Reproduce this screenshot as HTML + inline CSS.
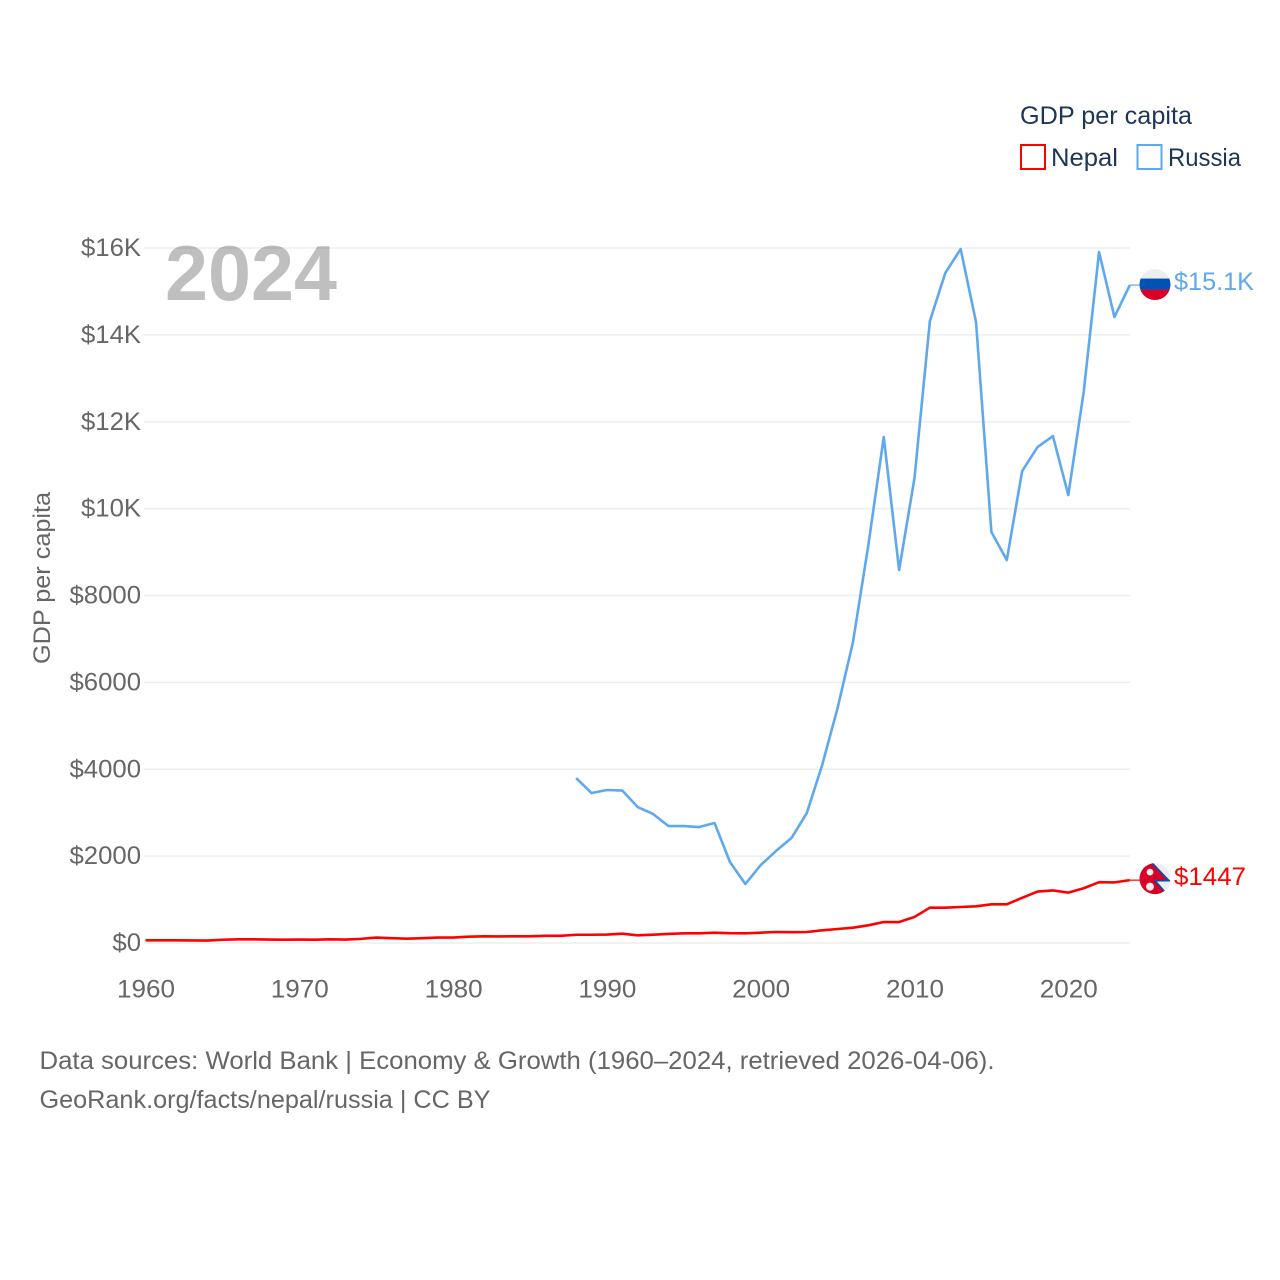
<!DOCTYPE html>
<html lang="en">
<head>
<meta charset="utf-8">
<title>GDP per capita: Nepal and Russia</title>
<style>
html,body{margin:0;padding:0;background:#fff;}
svg{display:block;}
text{font-family:"Liberation Sans",sans-serif;}
</style>
</head>
<body>
<svg id="chart" xmlns="http://www.w3.org/2000/svg" width="1280" height="1280" viewBox="0 0 1280 1280">
  <defs>
    <clipPath id="clip-russia"><circle cx="0" cy="0" r="15.5"/></clipPath>
    <clipPath id="clip-nepal"><circle cx="0" cy="0" r="15.5"/></clipPath>
  </defs>
  <rect width="1280" height="1280" fill="#fff"/>
  <g id="grid"></g>
  <g id="ylabels"></g>
  <g id="xlabels"></g>
  <text x="0" y="0" transform="translate(50,578) rotate(-90)" text-anchor="middle" font-size="24" fill="#666" textLength="172" lengthAdjust="spacingAndGlyphs">GDP per capita</text>
  <text x="165" y="300" font-size="78" font-weight="700" fill="#000" fill-opacity="0.25" textLength="172" lengthAdjust="spacingAndGlyphs">2024</text>
  <g id="series"></g>
  <g id="flag-russia">
    <g clip-path="url(#clip-russia)">
      <rect x="-16" y="-16" width="32" height="32" fill="#eeeeee"/>
      <rect x="-16" y="-6" width="32" height="11" fill="#0052b4"/>
      <rect x="-16" y="5" width="32" height="11" fill="#d80027"/>
    </g>
  </g>
  <g id="flag-nepal">
    <g clip-path="url(#clip-nepal)">
      <rect x="-16" y="-16" width="32" height="32" fill="#eeeeee"/>
      <polygon points="-16,-17 -3,-17 15,2 0,2 12,16 -3,17 -16,17" fill="#d80027"/>
      <polyline points="-3,-15 14,2 0,2 12,15.500" fill="none" stroke="#0052b4" stroke-width="1.6"/>
      <circle cx="-5" cy="-6.500" r="3.400" fill="#eeeeee"/>
      <circle cx="-5" cy="8" r="4" fill="#eeeeee"/>
    </g>
  </g>
  <g id="end-labels"></g>
  <g>
    <text x="1020" y="124" font-size="25" fill="#1d3557" textLength="172" lengthAdjust="spacingAndGlyphs">GDP per capita</text>
    <g>
      <rect x="1021" y="145" width="24" height="24" fill="#fff" stroke="#ff0000" stroke-width="2"/>
      <text x="1051" y="166" font-size="25" fill="#1d3557" textLength="67" lengthAdjust="spacingAndGlyphs">Nepal</text>
    </g>
    <g>
      <rect x="1137.500" y="145" width="24" height="24" fill="#fff" stroke="#5fa8ee" stroke-width="2"/>
      <text x="1168" y="166" font-size="25" fill="#1d3557" textLength="73" lengthAdjust="spacingAndGlyphs">Russia</text>
    </g>
  </g>
  <text x="39.500" y="1069" font-size="25" fill="#666" textLength="955" lengthAdjust="spacingAndGlyphs">Data sources: World Bank | Economy &amp; Growth (1960–2024, retrieved 2026-04-06).</text>
  <text x="39.500" y="1108" font-size="25" fill="#666" textLength="451" lengthAdjust="spacingAndGlyphs">GeoRank.org/facts/nepal/russia | CC BY</text>
</svg>
<script>
const xTickYears = [1960, 1970, 1980, 1990, 2000, 2010, 2020];
const yTickValues = [0, 2000, 4000, 6000, 8000, 10000, 12000, 14000, 16000];
const yTickLabels = ["$0", "$2000", "$4000", "$6000", "$8000", "$10K", "$12K", "$14K", "$16K"];

const nepalStartYear = 1960;
const nepalValues = [62, 62, 62, 58, 56, 75, 85, 85, 78, 76, 78, 76, 85, 80, 95, 125, 110, 100, 110, 125, 125, 145, 155, 150, 155, 155, 165, 165, 190, 190, 195, 215, 177, 192, 208, 223, 223, 238, 225, 223, 238, 253, 250, 253, 292, 322, 353, 407, 483, 483, 600, 813, 813, 829, 844, 890, 890, 1040, 1185, 1210, 1160, 1260, 1400, 1395, 1447];
const russiaStartYear = 1988;
const russiaValues = [3798, 3453, 3522, 3510, 3130, 2970, 2693, 2693, 2670, 2762, 1865, 1358, 1795, 2120, 2417, 2992, 4100, 5410, 6929, 9162, 11648, 8587, 10704, 14318, 15423, 15976, 14295, 9461, 8817, 10865, 11418, 11671, 10313, 12684, 15907, 14410, 15147];
const nepalEndLabel = "$1447";
const russiaEndLabel = "$15.1K";

const NS = "http://www.w3.org/2000/svg";
function xScale(year) { return 145.5 + (year - 1960) * 15.38; }
function yScale(value) { return 943 - value * (695 / 16000); }
function make(tag, attrs, text) {
  const el = document.createElementNS(NS, tag);
  for (const k in attrs) el.setAttribute(k, attrs[k]);
  if (text !== undefined) el.textContent = text;
  return el;
}
function approxWidth(label) {
  // Narrow the fallback font to the humanist proportions of the reference.
  return label.length * 14.3 + (label.indexOf("K") >= 0 ? 2.8 : 0);
}

const gridGroup = document.getElementById("grid");
const yGroup = document.getElementById("ylabels");
yTickValues.forEach(function (v, i) {
  const line = make("line", { x1: 144, x2: 1130, y1: yScale(v), y2: yScale(v), stroke: "#eeeeee", "stroke-width": 1.6 });
  
  
  gridGroup.appendChild(line);
  const label = make("text", { x: 141, y: yScale(v) + 8, "text-anchor": "end", "font-size": 25, fill: "#666", textLength: approxWidth(yTickLabels[i]), lengthAdjust: "spacingAndGlyphs" }, yTickLabels[i]);
  
  
  yGroup.appendChild(label);
});

const xGroup = document.getElementById("xlabels");
xTickYears.forEach(function (year) {
  const label = make("text", { x: xScale(year) + 0.5, y: 997.5, "text-anchor": "middle", "font-size": 25, fill: "#666", textLength: 58, lengthAdjust: "spacingAndGlyphs" }, String(year));
  
  
  xGroup.appendChild(label);
});

function pathFor(values, startYear) {
  return values.map(function (v, i) {
    return (i ? "L" : "M") + xScale(startYear + i).toFixed(2) + " " + yScale(v).toFixed(2);
  }).join(" ");
}
const seriesGroup = document.getElementById("series");
const russiaLine = make("path", { d: pathFor(russiaValues, russiaStartYear), fill: "none", stroke: "#5fa8ee", "stroke-width": 2.6, "stroke-linejoin": "round" });


seriesGroup.appendChild(russiaLine);
const nepalLine = make("path", { d: pathFor(nepalValues, nepalStartYear), fill: "none", stroke: "#ff0000", "stroke-width": 2.6, "stroke-linejoin": "round" });


seriesGroup.appendChild(nepalLine);

const russiaLast = yScale(russiaValues[russiaValues.length - 1]);
const nepalLast = yScale(nepalValues[nepalValues.length - 1]);
const lastX = xScale(2024);
const russiaConnector = make("line", { x1: lastX, x2: 1141, y1: russiaLast, y2: russiaLast, stroke: "#5fa8ee", "stroke-width": 1.2 });


seriesGroup.appendChild(russiaConnector);
const nepalConnector = make("line", { x1: lastX, x2: 1141, y1: nepalLast, y2: nepalLast, stroke: "#ff0000", "stroke-width": 1.2 });


seriesGroup.appendChild(nepalConnector);

document.getElementById("flag-russia").setAttribute("transform", "translate(1155," + (russiaLast - 0.5) + ")");
document.getElementById("flag-nepal").setAttribute("transform", "translate(1155," + (nepalLast - 1.5) + ")");

const endGroup = document.getElementById("end-labels");
const russiaText = make("text", { x: 1174, y: russiaLast + 5, "font-size": 25, fill: "#5fa8ee", textLength: 80, lengthAdjust: "spacingAndGlyphs" }, russiaEndLabel);


endGroup.appendChild(russiaText);
const nepalText = make("text", { x: 1174, y: nepalLast + 5, "font-size": 25, fill: "#ff0000", textLength: 72, lengthAdjust: "spacingAndGlyphs" }, nepalEndLabel);


endGroup.appendChild(nepalText);
</script>
</body>
</html>
